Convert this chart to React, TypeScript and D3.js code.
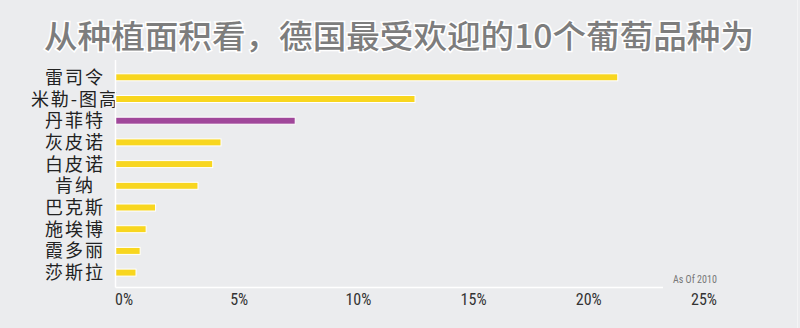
import React from "react";
import * as d3 from "d3";

const categories = ["雷司令", "米勒-图高", "丹菲特", "灰皮诺", "白皮诺", "肯纳", "巴克斯", "施埃博", "霞多丽", "莎斯拉"];
const shares = [21.8, 13.0, 7.8, 4.58, 4.22, 3.58, 1.74, 1.33, 1.07, 0.89];
const highlighted = ["丹菲特"];
const ticks = [0, 5, 10, 15, 20, 25];
const title = "从种植面积看，德国最受欢迎的10个葡萄品种为";
const note = "As Of 2010";

const W = 800;
const H = 328;

export default function App() {
  const x = d3.scaleLinear().domain([0, 25]).range([115.5, 691.5]);
  const y = d3.scalePoint<string>().domain(categories).range([66.45, 283.45]).padding(0.5);
  const barH = 7;
  const cond = "'Liberation Sans Narrow', 'Roboto Condensed', 'Arial Narrow', sans-serif";
  const cjk = "'Noto Sans CJK SC', 'Noto Sans', sans-serif";
  return (
    <svg width={W} height={H} style={{ position: "absolute", left: 0, top: 0, display: "block" }}>
      <rect x={0} y={0} width={W} height={H} fill="#ebecee" />
      <line x1={797.5} x2={797.5} y1={0} y2={H} stroke="#f4f4f5" strokeWidth={1} />
      <text
        x={44}
        y={47.5}
        fontFamily={cjk}
        fontWeight={500}
        fontSize={32}
        fill="#7d7d7d"
        stroke="#ffffff"
        strokeWidth={3}
        paintOrder="stroke"
        textLength={710}
        lengthAdjust="spacingAndGlyphs"
      >
        {title}
      </text>
      {categories.map((c, i) => (
        <g key={c}>
          <rect
            x={x(0)}
            y={(y(c) as number) - barH / 2}
            width={x(shares[i]) - x(0)}
            height={barH}
            fill={highlighted.includes(c) ? "#a0479a" : "#f8d61f"}
            stroke="#ffffff"
            strokeWidth={1}
          />
          <text
            x={75}
            y={(y(c) as number) + 6.5}
            textAnchor="middle"
            fontFamily={cjk}
            fontSize={18}
            letterSpacing={2}
            fill="#222"
          >
            {c}
          </text>
        </g>
      ))}
      <line x1={115.5} x2={115.5} y1={60} y2={287.5} stroke="#ffffff" strokeWidth={1.5} />
      <line x1={115.5} x2={663} y1={287.5} y2={287.5} stroke="#ffffff" strokeWidth={1.5} />
      {ticks.map((t) => (
        <text key={t} x={x(t) - 0.5} y={305} fontFamily={cond} fontSize={16} fill="#333">
          {t + "%"}
        </text>
      ))}
      <text x={673} y={283} fontFamily={cond} fontSize={10} fill="#777">
        {note}
      </text>
    </svg>
  );
}
